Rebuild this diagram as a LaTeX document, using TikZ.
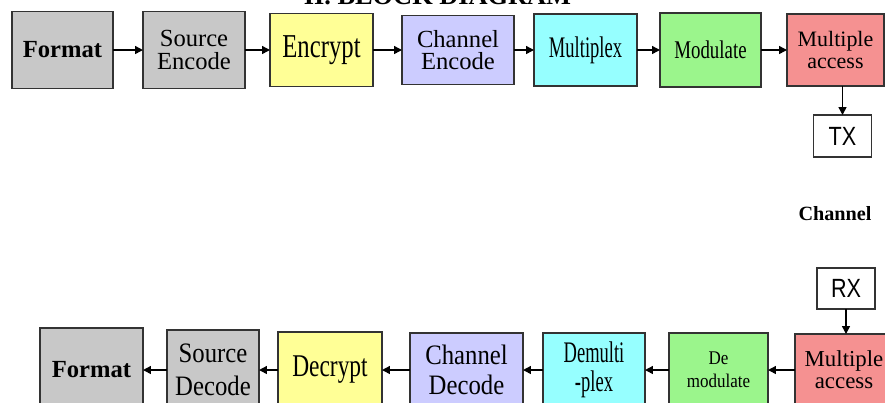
\documentclass[tikz,border=0pt]{standalone}
\usepackage{fontspec}
\setmainfont{Liberation Serif}
\newfontfamily\narrowA[FakeStretch=0.62]{Liberation Serif}
\newfontfamily\narrowB[FakeStretch=0.74]{Liberation Serif}
\newfontfamily\narrowC[FakeStretch=0.88]{Liberation Serif}
\newfontfamily\txrx[FakeStretch=0.82]{Liberation Sans}
\usetikzlibrary{positioning, arrows.meta}
\definecolor{boxgray}{RGB}{200,200,200}
\definecolor{boxyellow}{RGB}{255,255,150}
\definecolor{boxlav}{RGB}{204,204,255}
\definecolor{boxcyan}{RGB}{150,255,255}
\definecolor{boxgreen}{RGB}{155,245,140}
\definecolor{boxpink}{RGB}{245,145,145}

\begin{document}
\begin{tikzpicture}[
    node distance=0.5cm,
    blk/.style={rectangle, draw=black!80, line width=0.7pt, align=center, inner sep=0pt, outer sep=0pt},
    arrow/.style={-{Triangle[length=4.5pt, width=4.5pt]}, line width=0.8pt}
]
\useasboundingbox (0,0) rectangle (17.7,-8.04);

% Title (cut by the top edge)
\node (title) [anchor=base, font=\bfseries\fontsize{15}{15}\selectfont] at (8.75,-0.08) {II. BLOCK DIAGRAM};

% Nodes (sender)
\node (fmt) [blk, fill=boxgray, minimum width=2.02cm, minimum height=1.54cm, font=\bfseries\fontsize{14}{14}\selectfont] at (1.25,-1.0) {Format};
\node (src) [blk, fill=boxgray, right=0.6cm of fmt, minimum width=2.04cm, minimum height=1.54cm, font=\fontsize{14}{13}\selectfont] {Source\\Encode};
\node (enc) [blk, fill=boxyellow, right=0.5cm of src, minimum width=2.06cm, minimum height=1.46cm, font=\narrowB\fontsize{19}{19}\selectfont] {Encrypt};
\node (chenc) [blk, fill=boxlav, right=0.58cm of enc, minimum width=2.24cm, minimum height=1.38cm, font=\fontsize{14}{12.5}\selectfont] {Channel\\Encode};
\node (mux) [blk, fill=boxcyan, right=0.4cm of chenc, minimum width=2.06cm, minimum height=1.44cm, font=\narrowA\fontsize{17}{17}\selectfont] {Multiplex};
\node (mod) [blk, fill=boxgreen, right=0.46cm of mux, minimum width=2.02cm, minimum height=1.48cm, font=\narrowB\fontsize{14.5}{14.5}\selectfont] {Modulate};
\node (ma) [blk, fill=boxpink, right=0.52cm of mod, minimum width=1.94cm, minimum height=1.44cm, font=\fontsize{12.5}{12.5}\selectfont] {Multiple\\access};
\node (tx) [blk, fill=white, below=0.58cm of ma, xshift=0.14cm, minimum width=1.16cm, minimum height=0.84cm, font=\txrx\fontsize{15}{15}\selectfont] {TX};

% Channel
\node (chan) [font=\bfseries\fontsize{11.5}{11.5}\selectfont] at (16.7,-4.28) {Channel};

% Nodes (receiver)
\node (rx) [blk, fill=white, minimum width=1.16cm, minimum height=0.82cm, font=\txrx\fontsize{15}{15}\selectfont] at (16.92,-5.77) {RX};
\node (bma) [blk, fill=boxpink, minimum width=1.96cm, minimum height=1.44cm, font=\fontsize{13}{12.5}\selectfont] at (16.88,-7.4) {Multiple\\access};
\node (demod) [blk, fill=boxgreen, left=0.54cm of bma, minimum width=1.98cm, minimum height=1.48cm, font=\narrowC\fontsize{11}{13}\selectfont] {De\\modulate};
\node (demux) [blk, fill=boxcyan, left=0.48cm of demod, minimum width=2.04cm, minimum height=1.48cm, font=\narrowA\fontsize{17}{16.5}\selectfont] {Demulti\\-plex};
\node (chdec) [blk, fill=boxlav, left=0.4cm of demux, minimum width=2.26cm, minimum height=1.48cm, font=\narrowC\fontsize{16}{17}\selectfont] {Channel\\Decode};
\node (dec) [blk, fill=boxyellow, left=0.56cm of chdec, minimum width=2.08cm, minimum height=1.52cm, font=\narrowB\fontsize{18}{18}\selectfont] {Decrypt};
\node (sdec) [blk, fill=boxgray, left=0.38cm of dec, minimum width=1.84cm, minimum height=1.6cm, font=\narrowC\fontsize{16}{19}\selectfont] {Source\\Decode};
\node (bfmt) [blk, fill=boxgray, left=0.48cm of sdec, minimum width=2.06cm, minimum height=1.68cm, font=\bfseries\fontsize{14}{14}\selectfont] {Format};

% Arrows
\draw [arrow] (fmt) -- (src);
\draw [arrow] (src) -- (enc);
\draw [arrow] (enc) -- (chenc);
\draw [arrow] (chenc) -- (mux);
\draw [arrow] (mux) -- (mod);
\draw [arrow] (mod) -- (ma);
\draw [arrow] (ma.south -| tx) -- (tx);
\draw [arrow] (rx) -- (rx |- bma.north);
\draw [arrow] (bma) -- (demod);
\draw [arrow] (demod) -- (demux);
\draw [arrow] (demux) -- (chdec);
\draw [arrow] (chdec) -- (dec);
\draw [arrow] (dec) -- (sdec);
\draw [arrow] (sdec) -- (bfmt);

\end{tikzpicture}
\end{document}
